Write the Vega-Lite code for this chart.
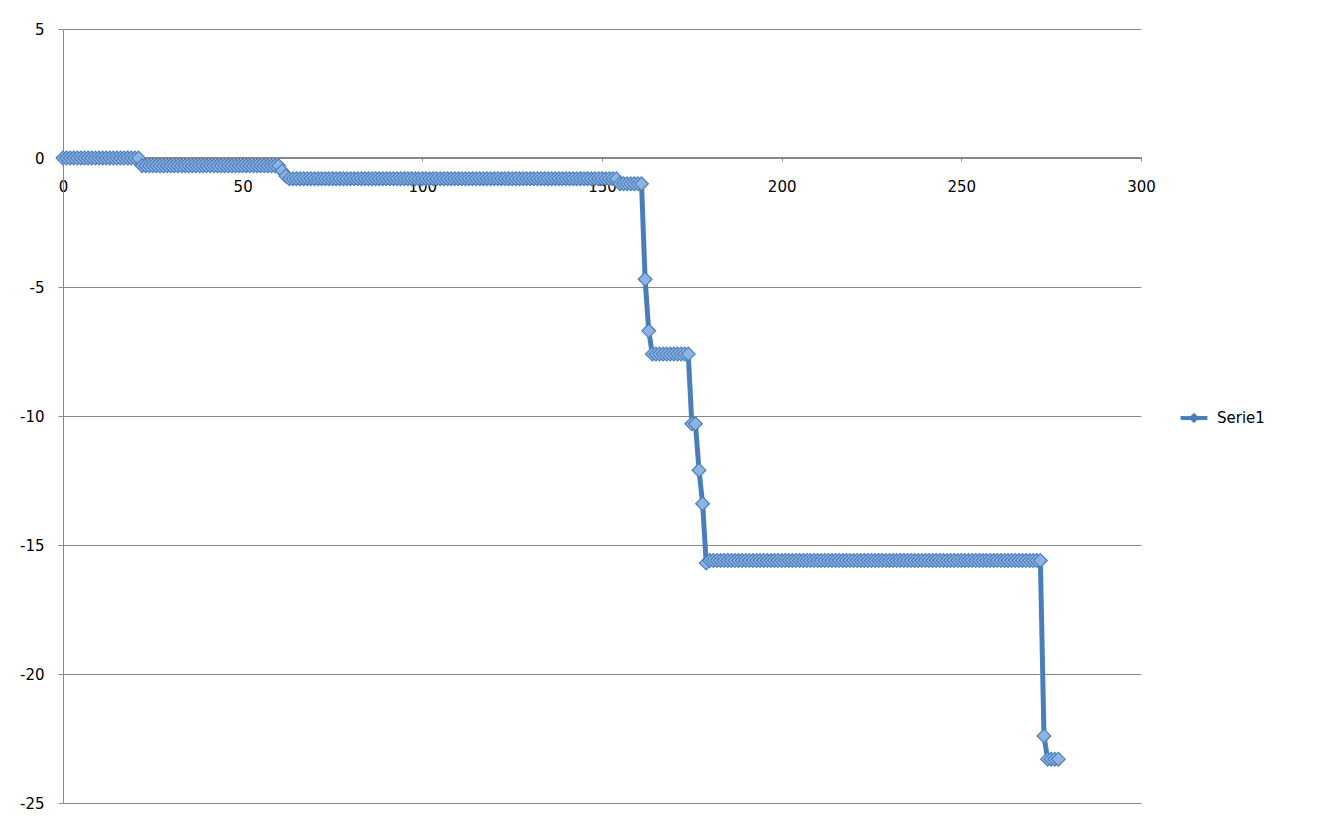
{"$schema":"https://vega.github.io/schema/vega-lite/v6.json","width":1078,"height":774,"autosize":{"type":"none"},"padding":{"left":63,"top":29,"right":181,"bottom":29},"background":"white","config":{"view":{"stroke":null},"font":"DejaVu Sans"},
"data":{"values":[
{"x":0,"y":0,"s":"Serie1"},{"x":1,"y":0,"s":"Serie1"},{"x":2,"y":0,"s":"Serie1"},{"x":3,"y":0,"s":"Serie1"},{"x":4,"y":0,"s":"Serie1"},{"x":5,"y":0,"s":"Serie1"},{"x":6,"y":0,"s":"Serie1"},{"x":7,"y":0,"s":"Serie1"},{"x":8,"y":0,"s":"Serie1"},{"x":9,"y":0,"s":"Serie1"},{"x":10,"y":0,"s":"Serie1"},{"x":11,"y":0,"s":"Serie1"},{"x":12,"y":0,"s":"Serie1"},{"x":13,"y":0,"s":"Serie1"},{"x":14,"y":0,"s":"Serie1"},{"x":15,"y":0,"s":"Serie1"},{"x":16,"y":0,"s":"Serie1"},{"x":17,"y":0,"s":"Serie1"},{"x":18,"y":0,"s":"Serie1"},{"x":19,"y":0,"s":"Serie1"},{"x":20,"y":0,"s":"Serie1"},{"x":21,"y":0,"s":"Serie1"},
{"x":22,"y":-0.3,"s":"Serie1"},{"x":23,"y":-0.3,"s":"Serie1"},{"x":24,"y":-0.3,"s":"Serie1"},{"x":25,"y":-0.3,"s":"Serie1"},{"x":26,"y":-0.3,"s":"Serie1"},{"x":27,"y":-0.3,"s":"Serie1"},{"x":28,"y":-0.3,"s":"Serie1"},{"x":29,"y":-0.3,"s":"Serie1"},{"x":30,"y":-0.3,"s":"Serie1"},{"x":31,"y":-0.3,"s":"Serie1"},{"x":32,"y":-0.3,"s":"Serie1"},{"x":33,"y":-0.3,"s":"Serie1"},{"x":34,"y":-0.3,"s":"Serie1"},{"x":35,"y":-0.3,"s":"Serie1"},{"x":36,"y":-0.3,"s":"Serie1"},{"x":37,"y":-0.3,"s":"Serie1"},{"x":38,"y":-0.3,"s":"Serie1"},{"x":39,"y":-0.3,"s":"Serie1"},{"x":40,"y":-0.3,"s":"Serie1"},{"x":41,"y":-0.3,"s":"Serie1"},{"x":42,"y":-0.3,"s":"Serie1"},{"x":43,"y":-0.3,"s":"Serie1"},{"x":44,"y":-0.3,"s":"Serie1"},{"x":45,"y":-0.3,"s":"Serie1"},{"x":46,"y":-0.3,"s":"Serie1"},{"x":47,"y":-0.3,"s":"Serie1"},{"x":48,"y":-0.3,"s":"Serie1"},{"x":49,"y":-0.3,"s":"Serie1"},{"x":50,"y":-0.3,"s":"Serie1"},{"x":51,"y":-0.3,"s":"Serie1"},{"x":52,"y":-0.3,"s":"Serie1"},{"x":53,"y":-0.3,"s":"Serie1"},{"x":54,"y":-0.3,"s":"Serie1"},{"x":55,"y":-0.3,"s":"Serie1"},{"x":56,"y":-0.3,"s":"Serie1"},{"x":57,"y":-0.3,"s":"Serie1"},{"x":58,"y":-0.3,"s":"Serie1"},{"x":59,"y":-0.3,"s":"Serie1"},{"x":60,"y":-0.3,"s":"Serie1"},
{"x":61,"y":-0.5,"s":"Serie1"},{"x":62,"y":-0.7,"s":"Serie1"},
{"x":63,"y":-0.8,"s":"Serie1"},{"x":64,"y":-0.8,"s":"Serie1"},{"x":65,"y":-0.8,"s":"Serie1"},{"x":66,"y":-0.8,"s":"Serie1"},{"x":67,"y":-0.8,"s":"Serie1"},{"x":68,"y":-0.8,"s":"Serie1"},{"x":69,"y":-0.8,"s":"Serie1"},{"x":70,"y":-0.8,"s":"Serie1"},{"x":71,"y":-0.8,"s":"Serie1"},{"x":72,"y":-0.8,"s":"Serie1"},{"x":73,"y":-0.8,"s":"Serie1"},{"x":74,"y":-0.8,"s":"Serie1"},{"x":75,"y":-0.8,"s":"Serie1"},{"x":76,"y":-0.8,"s":"Serie1"},{"x":77,"y":-0.8,"s":"Serie1"},{"x":78,"y":-0.8,"s":"Serie1"},{"x":79,"y":-0.8,"s":"Serie1"},{"x":80,"y":-0.8,"s":"Serie1"},{"x":81,"y":-0.8,"s":"Serie1"},{"x":82,"y":-0.8,"s":"Serie1"},{"x":83,"y":-0.8,"s":"Serie1"},{"x":84,"y":-0.8,"s":"Serie1"},{"x":85,"y":-0.8,"s":"Serie1"},{"x":86,"y":-0.8,"s":"Serie1"},{"x":87,"y":-0.8,"s":"Serie1"},{"x":88,"y":-0.8,"s":"Serie1"},{"x":89,"y":-0.8,"s":"Serie1"},{"x":90,"y":-0.8,"s":"Serie1"},{"x":91,"y":-0.8,"s":"Serie1"},{"x":92,"y":-0.8,"s":"Serie1"},{"x":93,"y":-0.8,"s":"Serie1"},{"x":94,"y":-0.8,"s":"Serie1"},{"x":95,"y":-0.8,"s":"Serie1"},{"x":96,"y":-0.8,"s":"Serie1"},{"x":97,"y":-0.8,"s":"Serie1"},{"x":98,"y":-0.8,"s":"Serie1"},{"x":99,"y":-0.8,"s":"Serie1"},{"x":100,"y":-0.8,"s":"Serie1"},{"x":101,"y":-0.8,"s":"Serie1"},{"x":102,"y":-0.8,"s":"Serie1"},{"x":103,"y":-0.8,"s":"Serie1"},{"x":104,"y":-0.8,"s":"Serie1"},{"x":105,"y":-0.8,"s":"Serie1"},{"x":106,"y":-0.8,"s":"Serie1"},{"x":107,"y":-0.8,"s":"Serie1"},{"x":108,"y":-0.8,"s":"Serie1"},{"x":109,"y":-0.8,"s":"Serie1"},{"x":110,"y":-0.8,"s":"Serie1"},{"x":111,"y":-0.8,"s":"Serie1"},{"x":112,"y":-0.8,"s":"Serie1"},{"x":113,"y":-0.8,"s":"Serie1"},{"x":114,"y":-0.8,"s":"Serie1"},{"x":115,"y":-0.8,"s":"Serie1"},{"x":116,"y":-0.8,"s":"Serie1"},{"x":117,"y":-0.8,"s":"Serie1"},{"x":118,"y":-0.8,"s":"Serie1"},{"x":119,"y":-0.8,"s":"Serie1"},{"x":120,"y":-0.8,"s":"Serie1"},{"x":121,"y":-0.8,"s":"Serie1"},{"x":122,"y":-0.8,"s":"Serie1"},{"x":123,"y":-0.8,"s":"Serie1"},{"x":124,"y":-0.8,"s":"Serie1"},{"x":125,"y":-0.8,"s":"Serie1"},{"x":126,"y":-0.8,"s":"Serie1"},{"x":127,"y":-0.8,"s":"Serie1"},{"x":128,"y":-0.8,"s":"Serie1"},{"x":129,"y":-0.8,"s":"Serie1"},{"x":130,"y":-0.8,"s":"Serie1"},{"x":131,"y":-0.8,"s":"Serie1"},{"x":132,"y":-0.8,"s":"Serie1"},{"x":133,"y":-0.8,"s":"Serie1"},{"x":134,"y":-0.8,"s":"Serie1"},{"x":135,"y":-0.8,"s":"Serie1"},{"x":136,"y":-0.8,"s":"Serie1"},{"x":137,"y":-0.8,"s":"Serie1"},{"x":138,"y":-0.8,"s":"Serie1"},{"x":139,"y":-0.8,"s":"Serie1"},{"x":140,"y":-0.8,"s":"Serie1"},{"x":141,"y":-0.8,"s":"Serie1"},{"x":142,"y":-0.8,"s":"Serie1"},{"x":143,"y":-0.8,"s":"Serie1"},{"x":144,"y":-0.8,"s":"Serie1"},{"x":145,"y":-0.8,"s":"Serie1"},{"x":146,"y":-0.8,"s":"Serie1"},{"x":147,"y":-0.8,"s":"Serie1"},{"x":148,"y":-0.8,"s":"Serie1"},{"x":149,"y":-0.8,"s":"Serie1"},{"x":150,"y":-0.8,"s":"Serie1"},{"x":151,"y":-0.8,"s":"Serie1"},{"x":152,"y":-0.8,"s":"Serie1"},{"x":153,"y":-0.8,"s":"Serie1"},{"x":154,"y":-0.8,"s":"Serie1"},
{"x":155,"y":-1.0,"s":"Serie1"},{"x":156,"y":-1.0,"s":"Serie1"},{"x":157,"y":-1.0,"s":"Serie1"},{"x":158,"y":-1.0,"s":"Serie1"},{"x":159,"y":-1.0,"s":"Serie1"},{"x":160,"y":-1.0,"s":"Serie1"},{"x":161,"y":-1.0,"s":"Serie1"},
{"x":162,"y":-4.7,"s":"Serie1"},{"x":163,"y":-6.7,"s":"Serie1"},
{"x":164,"y":-7.6,"s":"Serie1"},{"x":165,"y":-7.6,"s":"Serie1"},{"x":166,"y":-7.6,"s":"Serie1"},{"x":167,"y":-7.6,"s":"Serie1"},{"x":168,"y":-7.6,"s":"Serie1"},{"x":169,"y":-7.6,"s":"Serie1"},{"x":170,"y":-7.6,"s":"Serie1"},{"x":171,"y":-7.6,"s":"Serie1"},{"x":172,"y":-7.6,"s":"Serie1"},{"x":173,"y":-7.6,"s":"Serie1"},{"x":174,"y":-7.6,"s":"Serie1"},
{"x":175,"y":-10.3,"s":"Serie1"},{"x":176,"y":-10.3,"s":"Serie1"},{"x":177,"y":-12.1,"s":"Serie1"},{"x":178,"y":-13.4,"s":"Serie1"},{"x":179,"y":-15.7,"s":"Serie1"},
{"x":180,"y":-15.6,"s":"Serie1"},{"x":181,"y":-15.6,"s":"Serie1"},{"x":182,"y":-15.6,"s":"Serie1"},{"x":183,"y":-15.6,"s":"Serie1"},{"x":184,"y":-15.6,"s":"Serie1"},{"x":185,"y":-15.6,"s":"Serie1"},{"x":186,"y":-15.6,"s":"Serie1"},{"x":187,"y":-15.6,"s":"Serie1"},{"x":188,"y":-15.6,"s":"Serie1"},{"x":189,"y":-15.6,"s":"Serie1"},{"x":190,"y":-15.6,"s":"Serie1"},{"x":191,"y":-15.6,"s":"Serie1"},{"x":192,"y":-15.6,"s":"Serie1"},{"x":193,"y":-15.6,"s":"Serie1"},{"x":194,"y":-15.6,"s":"Serie1"},{"x":195,"y":-15.6,"s":"Serie1"},{"x":196,"y":-15.6,"s":"Serie1"},{"x":197,"y":-15.6,"s":"Serie1"},{"x":198,"y":-15.6,"s":"Serie1"},{"x":199,"y":-15.6,"s":"Serie1"},{"x":200,"y":-15.6,"s":"Serie1"},{"x":201,"y":-15.6,"s":"Serie1"},{"x":202,"y":-15.6,"s":"Serie1"},{"x":203,"y":-15.6,"s":"Serie1"},{"x":204,"y":-15.6,"s":"Serie1"},{"x":205,"y":-15.6,"s":"Serie1"},{"x":206,"y":-15.6,"s":"Serie1"},{"x":207,"y":-15.6,"s":"Serie1"},{"x":208,"y":-15.6,"s":"Serie1"},{"x":209,"y":-15.6,"s":"Serie1"},{"x":210,"y":-15.6,"s":"Serie1"},{"x":211,"y":-15.6,"s":"Serie1"},{"x":212,"y":-15.6,"s":"Serie1"},{"x":213,"y":-15.6,"s":"Serie1"},{"x":214,"y":-15.6,"s":"Serie1"},{"x":215,"y":-15.6,"s":"Serie1"},{"x":216,"y":-15.6,"s":"Serie1"},{"x":217,"y":-15.6,"s":"Serie1"},{"x":218,"y":-15.6,"s":"Serie1"},{"x":219,"y":-15.6,"s":"Serie1"},{"x":220,"y":-15.6,"s":"Serie1"},{"x":221,"y":-15.6,"s":"Serie1"},{"x":222,"y":-15.6,"s":"Serie1"},{"x":223,"y":-15.6,"s":"Serie1"},{"x":224,"y":-15.6,"s":"Serie1"},{"x":225,"y":-15.6,"s":"Serie1"},{"x":226,"y":-15.6,"s":"Serie1"},{"x":227,"y":-15.6,"s":"Serie1"},{"x":228,"y":-15.6,"s":"Serie1"},{"x":229,"y":-15.6,"s":"Serie1"},{"x":230,"y":-15.6,"s":"Serie1"},{"x":231,"y":-15.6,"s":"Serie1"},{"x":232,"y":-15.6,"s":"Serie1"},{"x":233,"y":-15.6,"s":"Serie1"},{"x":234,"y":-15.6,"s":"Serie1"},{"x":235,"y":-15.6,"s":"Serie1"},{"x":236,"y":-15.6,"s":"Serie1"},{"x":237,"y":-15.6,"s":"Serie1"},{"x":238,"y":-15.6,"s":"Serie1"},{"x":239,"y":-15.6,"s":"Serie1"},{"x":240,"y":-15.6,"s":"Serie1"},{"x":241,"y":-15.6,"s":"Serie1"},{"x":242,"y":-15.6,"s":"Serie1"},{"x":243,"y":-15.6,"s":"Serie1"},{"x":244,"y":-15.6,"s":"Serie1"},{"x":245,"y":-15.6,"s":"Serie1"},{"x":246,"y":-15.6,"s":"Serie1"},{"x":247,"y":-15.6,"s":"Serie1"},{"x":248,"y":-15.6,"s":"Serie1"},{"x":249,"y":-15.6,"s":"Serie1"},{"x":250,"y":-15.6,"s":"Serie1"},{"x":251,"y":-15.6,"s":"Serie1"},{"x":252,"y":-15.6,"s":"Serie1"},{"x":253,"y":-15.6,"s":"Serie1"},{"x":254,"y":-15.6,"s":"Serie1"},{"x":255,"y":-15.6,"s":"Serie1"},{"x":256,"y":-15.6,"s":"Serie1"},{"x":257,"y":-15.6,"s":"Serie1"},{"x":258,"y":-15.6,"s":"Serie1"},{"x":259,"y":-15.6,"s":"Serie1"},{"x":260,"y":-15.6,"s":"Serie1"},{"x":261,"y":-15.6,"s":"Serie1"},{"x":262,"y":-15.6,"s":"Serie1"},{"x":263,"y":-15.6,"s":"Serie1"},{"x":264,"y":-15.6,"s":"Serie1"},{"x":265,"y":-15.6,"s":"Serie1"},{"x":266,"y":-15.6,"s":"Serie1"},{"x":267,"y":-15.6,"s":"Serie1"},{"x":268,"y":-15.6,"s":"Serie1"},{"x":269,"y":-15.6,"s":"Serie1"},{"x":270,"y":-15.6,"s":"Serie1"},{"x":271,"y":-15.6,"s":"Serie1"},{"x":272,"y":-15.6,"s":"Serie1"},
{"x":273,"y":-22.4,"s":"Serie1"},{"x":274,"y":-23.3,"s":"Serie1"},{"x":275,"y":-23.3,"s":"Serie1"},{"x":276,"y":-23.3,"s":"Serie1"},{"x":277,"y":-23.3,"s":"Serie1"}
]},
"encoding":{
"x":{"field":"x","type":"quantitative","scale":{"domain":[0,300],"nice":false},"axis":{"orient":"bottom","offset":-646,"values":[0,50,100,150,200,250,300],"grid":false,"title":null,"domainColor":"#888888","tickColor":"#888888","tickSize":4,"labelFontSize":15,"labelColor":"#000000","labelPadding":18,"labelFlush":false}},
"y":{"field":"y","type":"quantitative","scale":{"domain":[-25,5],"nice":false,"zero":false},"axis":{"values":[-25,-20,-15,-10,-5,0,5],"labelExpr":"replace(datum.label,'−','-')","grid":true,"gridColor":"#888888","title":null,"domainColor":"#888888","tickColor":"#888888","tickSize":5,"labelFontSize":15,"labelColor":"#000000","labelPadding":14}}
},
"layer":[
{"mark":{"type":"line","strokeWidth":5,"strokeJoin":"round"},"encoding":{"color":{"field":"s","type":"nominal","scale":{"range":["#4a7ebb"]},"legend":{"title":null,"orient":"none","legendX":1122,"legendY":380,"symbolType":"M-2,0L2,0M-0.35,0L0,-0.35L0.35,0L0,0.35Z","symbolSize":180,"symbolFillColor":"#8db3e2","symbolStrokeWidth":4,"labelFontSize":15,"labelColor":"#000000","labelOffset":14}}}},
{"mark":{"type":"point","shape":"diamond","size":190,"filled":true,"fill":"#8db3e2","stroke":"#4a7ebb","strokeWidth":1.2,"opacity":1}}
]}
